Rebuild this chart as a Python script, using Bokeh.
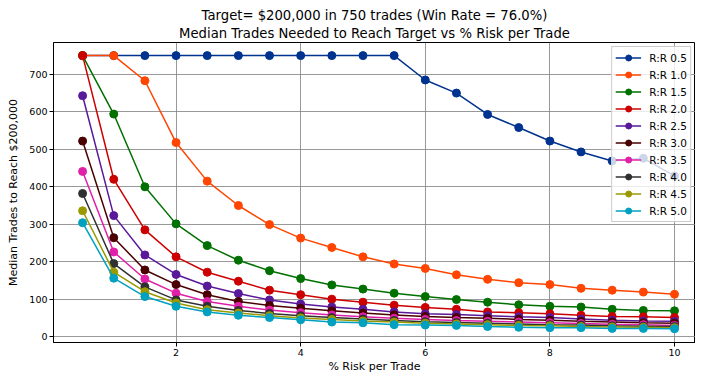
from bokeh.plotting import figure
from bokeh.models import Range1d, Legend, LegendItem, FixedTicker, Title
from bokeh.embed import file_html
from bokeh.resources import INLINE

risk = [0.5, 1.0, 1.5, 2.0, 2.5, 3.0, 3.5, 4.0, 4.5, 5.0,
        5.5, 6.0, 6.5, 7.0, 7.5, 8.0, 8.5, 9.0, 9.5, 10.0]

rr_labels = ["R:R 0.5", "R:R 1.0", "R:R 1.5", "R:R 2.0", "R:R 2.5",
             "R:R 3.0", "R:R 3.5", "R:R 4.0", "R:R 4.5", "R:R 5.0"]

rr_05 = [750, 750, 750, 750, 750, 750, 750, 750, 750, 750,
         750, 685, 650, 593, 558, 522, 493, 469, 476, 429]
rr_10 = [750, 750, 683, 518, 415, 350, 299, 263, 238, 213,
         194, 182, 165, 153, 144, 139, 129, 124, 119, 113]
rr_15 = [750, 594, 400, 301, 243, 204, 176, 155, 138, 127,
         116, 107, 99, 92, 85, 81, 79, 73, 70, 69]
rr_20 = [750, 420, 285, 213, 172, 148, 124, 112, 100, 92,
         84, 78, 73, 66, 64, 61, 57, 54, 53, 51]
rr_25 = [643, 323, 218, 166, 135, 115, 98, 87, 79, 73,
         66, 61, 59, 56, 53, 51, 47, 44, 42, 41]
rr_30 = [522, 264, 178, 139, 112, 94, 83, 76, 69, 63,
         58, 54, 51, 49, 46, 44, 41, 39, 37, 36]
rr_35 = [441, 226, 154, 116, 94, 81, 71, 64, 58, 53,
         49, 46, 43, 41, 39, 37, 35, 33, 32, 30]
rr_40 = [382, 195, 133, 98, 81, 70, 62, 56, 51, 47,
         43, 40, 38, 36, 34, 32, 31, 29, 28, 27]
rr_45 = [336, 172, 120, 90, 72, 63, 56, 50, 46, 42,
         39, 36, 34, 32, 30, 29, 27, 26, 25, 24]
rr_50 = [304, 156, 107, 81, 66, 57, 51, 45, 39, 37,
         32, 31, 30, 27, 25, 24, 24, 22, 22, 21]

series = [rr_05, rr_10, rr_15, rr_20, rr_25, rr_30, rr_35, rr_40, rr_45, rr_50]
colors = ["#00338f", "#ff4500", "#007000", "#cc0000", "#5a189a",
          "#4a0000", "#e020a8", "#303030", "#9a9a00", "#00a0c0"]

x_ticks = [2, 4, 6, 8, 10]
y_ticks = [0, 100, 200, 300, 400, 500, 600, 700]

FONT = "DejaVu Sans"

p = figure(width=695, height=375, output_backend="svg", toolbar_location=None,
           x_range=Range1d(0.033, 10.337), y_range=Range1d(-15.6, 785),
           min_border_left=53, min_border_right=0, min_border_top=42,
           min_border_bottom=31)

t2 = Title(text="Median Trades Needed to Reach Target vs % Risk per Trade",
           align="center", text_font=FONT, text_font_size="13.2px",
           text_font_style="normal", text_color="#000000", standoff=3)
t1 = Title(text="Target= $200,000 in 750 trades (Win Rate = 76.0%)",
           align="center", text_font=FONT, text_font_size="13.2px",
           text_font_style="normal", text_color="#000000", standoff=0)
p.title = None
p.add_layout(t2, "above")
p.add_layout(t1, "above")

items = []
for lab, ys, c in zip(rr_labels, series, colors):
    r1 = p.line(risk, ys, line_color=c, line_width=1.5)
    r2 = p.scatter(risk, ys, size=8, fill_color=c, line_color=c)
    items.append(LegendItem(label=lab, renderers=[r1, r2]))

legend = Legend(items=items, location="top_right",
                label_text_font=FONT, label_text_font_size="10.5px",
                label_text_color="#000000",
                background_fill_alpha=0.8, border_line_color="#cccccc",
                border_line_alpha=1.0, glyph_width=26, glyph_height=15,
                label_height=15, spacing=2, padding=3, margin=4,
                label_standoff=8)
p.add_layout(legend)

for ax in (p.xaxis[0], p.yaxis[0]):
    ax.major_label_text_font = FONT
    ax.major_label_text_font_size = "9.5px"
    ax.major_label_text_color = "#000000"
    ax.axis_label_text_font = FONT
    ax.axis_label_text_font_size = "11px"
    ax.axis_label_text_font_style = "normal"
    ax.axis_label_text_color = "#000000"
    ax.axis_line_color = "#000000"
    ax.major_tick_line_color = "#000000"
    ax.minor_tick_line_color = None
    ax.major_tick_out = 4
    ax.major_tick_in = 0
    ax.major_label_standoff = 2

p.xaxis.axis_label_standoff = 1
p.yaxis.axis_label_standoff = 6

p.xaxis.ticker = FixedTicker(ticks=x_ticks)
p.yaxis.ticker = FixedTicker(ticks=y_ticks)
p.xaxis.axis_label = "% Risk per Trade"
p.yaxis.axis_label = "Median Trades to Reach $200,000"

p.xgrid.ticker = FixedTicker(ticks=x_ticks)
p.ygrid.ticker = FixedTicker(ticks=y_ticks)
p.grid.grid_line_color = "#808080"
p.grid.grid_line_alpha = 0.8
p.grid.grid_line_width = 1

p.outline_line_color = "#000000"
p.outline_line_alpha = 1.0
p.background_fill_color = "white"
p.border_fill_color = "white"

open("out.html", "w").write(file_html(p, INLINE))
